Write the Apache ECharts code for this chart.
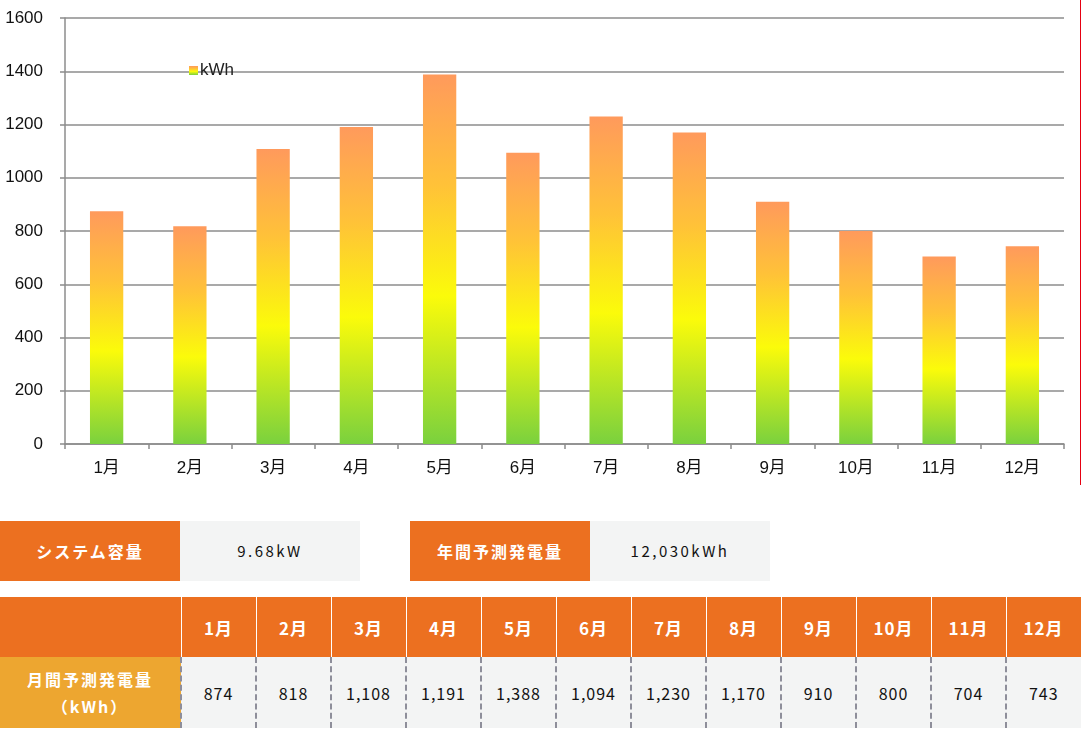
<!DOCTYPE html>
<html>
<head>
<meta charset="utf-8">
<script src="https://cdn.jsdelivr.net/npm/echarts@6/dist/echarts.min.js"></script>
<style>
  body { margin: 0; background: #fff; width: 1081px; height: 730px; position: relative; overflow: hidden; }
  #chart { position: absolute; left: 0; top: 0; width: 1080px; height: 485px; border-right: 1px solid #e60012; }
  .box { position: absolute; height: 60px; line-height: 60px; text-align: center; font-family: "Noto Sans CJK JP", sans-serif; }
  .lab { background: #ec7020; color: #fff; font-weight: bold; font-size: 16px; letter-spacing: 2px; }
  .val { background: #f3f4f4; color: #111; font-size: 15px; letter-spacing: 2.5px; }
  #tbl { position: absolute; left: 0; top: 597px; border-collapse: collapse; font-family: "Noto Sans CJK JP", sans-serif; }
  #tbl td { padding: 0; text-align: center; }
  #tbl tr.head td { background: #ec7020; color: #fff; font-weight: bold; font-size: 17px; height: 60px; width: 74px; border-left: 1px solid #fff; letter-spacing: 1px; }
  #tbl tr.head td:first-child { width: 180px; border-left: none; }
  #tbl tr.data td { background: #f3f4f4; color: #111; font-size: 16px; height: 71px; width: 73px; border-left: 2px dashed #8e8e9a; letter-spacing: 1px; }
  #tbl tr.data td.rowlab { background: #eda630; color: #fff; font-weight: bold; width: 180px; border-left: none; line-height: 27px; letter-spacing: 2px; }
</style>
</head>
<body>
<div id="chart"></div>
<div class="box lab" style="left:0;top:521px;width:180px;">システム容量</div>
<div class="box val" style="left:180px;top:521px;width:180px;" id="capacity"></div>
<div class="box lab" style="left:410px;top:521px;width:180px;">年間予測発電量</div>
<div class="box val" style="left:590px;top:521px;width:180px;" id="annual"></div>
<table id="tbl"></table>
<script>
const months = ['1月', '2月', '3月', '4月', '5月', '6月', '7月', '8月', '9月', '10月', '11月', '12月']
const kwh = [874, 818, 1108, 1191, 1388, 1094, 1230, 1170, 910, 800, 704, 743]
const seriesName = 'kWh'
const systemCapacity = '9.68kW'
const rowLabel = ['月間予測発電量', '（kWh）']

const fmt = v => v.toLocaleString('en-US')

// summary + monthly table
document.getElementById('capacity').textContent = systemCapacity
document.getElementById('annual').textContent = fmt(kwh.reduce((a, b) => a + b, 0)) + 'kWh'
let html = '<tr class="head"><td></td>' + months.map(m => '<td>' + m + '</td>').join('') + '</tr>'
html += '<tr class="data"><td class="rowlab">' + rowLabel.join('<br>') + '</td>' +
  kwh.map(v => '<td>' + fmt(v) + '</td>').join('') + '</tr>'
document.getElementById('tbl').innerHTML = html

const chart = echarts.init(document.getElementById('chart'))
const barGradient = new echarts.graphic.LinearGradient(0, 0, 0, 1, [
  { offset: 0, color: '#ff9a5c' },
  { offset: 0.3, color: '#ffc238' },
  { offset: 0.6, color: '#fbfb0a' },
  { offset: 1, color: '#7ad13e' }
])
const fontFam = '"Liberation Sans", "Noto Sans CJK JP", sans-serif'

chart.setOption({
  animation: false,
  grid: { left: 65, right: 16, top: 18, bottom: 41 },
  legend: {
    left: 184,
    top: 57,
    itemWidth: 9,
    itemHeight: 9,
    itemGap: 4,
    icon: 'rect',
    textStyle: { fontSize: 17, color: '#222', fontFamily: fontFam, padding: [0, 0, 0, -3] },
    data: [seriesName]
  },
  xAxis: {
    type: 'category',
    data: months,
    axisLine: { lineStyle: { color: '#8c8c8c', width: 1.5 } },
    axisTick: { show: true, length: 5, lineStyle: { color: '#8c8c8c', width: 1.5 } },
    axisLabel: { fontSize: 17, color: '#111', margin: 16, fontFamily: fontFam }
  },
  yAxis: {
    type: 'value',
    min: 0,
    max: 1600,
    interval: 200,
    axisLine: { show: true, lineStyle: { color: '#8c8c8c', width: 1.5 } },
    axisTick: { show: true, length: 5, lineStyle: { color: '#8c8c8c', width: 1.5 } },
    splitLine: { lineStyle: { color: '#8c8c8c', width: 1.5 } },
    axisLabel: { fontSize: 17, color: '#111', margin: 22, fontFamily: fontFam, formatter: v => String(v) }
  },
  series: [{
    name: seriesName,
    type: 'bar',
    data: kwh,
    barWidth: '40%',
    itemStyle: { color: barGradient }
  }]
})
</script>
</body>
</html>
